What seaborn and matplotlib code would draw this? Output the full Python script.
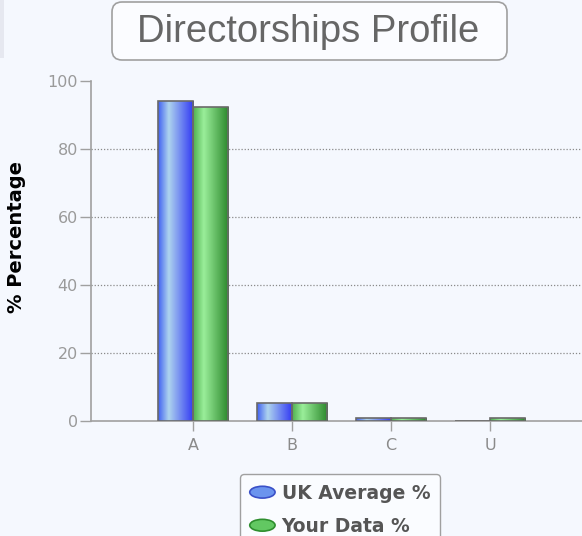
import matplotlib
matplotlib.use('Agg')
import matplotlib.pyplot as plt
import seaborn as sns
import pandas as pd
import numpy as np
from matplotlib.patches import FancyBboxPatch, Ellipse, Patch, Rectangle
from matplotlib.transforms import IdentityTransform
from matplotlib.colors import LinearSegmentedColormap
from matplotlib.legend_handler import HandlerPatch

# ---- data ----
categories = ['A', 'B', 'C', 'U']
uk_average = [94.2, 5.2, 1.0, 0.0]
your_data = [92.4, 5.2, 1.0, 1.0]
series_names = ['UK Average %', 'Your Data %']
y_ticks = [0, 20, 40, 60, 80, 100]
title = 'Directorships Profile'
y_label = '% Percentage'

df = pd.DataFrame({
    'category': categories * 2,
    'value': uk_average + your_data,
    'series': [series_names[0]] * len(categories) + [series_names[1]] * len(categories),
})

BG = '#f5f8fe'
W, H = 582, 536
fig = plt.figure(figsize=(W / 100, H / 100), dpi=100, facecolor=BG)
ax = fig.add_axes([91 / W, 1 - 421 / H, 491 / W, 340 / H])
ax.set_facecolor(BG)

sns.barplot(data=df, x='category', y='value', hue='series',
            palette=['#4a6cf0', '#4fb84f'], width=0.71, saturation=1,
            edgecolor='#6a6a6a', linewidth=1.2, ax=ax, legend=False, zorder=3)

# gradient fill clipped to each bar
cmaps = [
    LinearSegmentedColormap.from_list('b', [(0, '#3f5ff2'), (0.3, '#aed4ee'), (1, '#2f36f4')]),
    LinearSegmentedColormap.from_list('g', [(0, '#4fae4f'), (0.3, '#9aee9a'), (1, '#2a862a')]),
]
grad = np.linspace(0, 1, 256).reshape(1, -1)
for cont, cmap in zip(ax.containers, cmaps):
    for bar in cont:
        h = bar.get_height()
        if h <= 0:
            continue
        x0 = bar.get_x()
        w = bar.get_width()
        im = ax.imshow(grad, extent=(x0, x0 + w, 0, h), aspect='auto', cmap=cmap,
                       zorder=3.5, interpolation='bilinear')
        im.set_clip_path(bar)
        bar.set_facecolor('none')
        bar.set_zorder(4)

ax.set_xlim(-1.03, 3.93)
ax.set_ylim(0, 100)
ax.set_yticks(y_ticks)
ax.set_xlabel('')
ax.set_ylabel(y_label, fontweight='bold', fontsize=14, color='black')
ax.yaxis.set_label_coords(-0.132, 0.54)

ax.yaxis.grid(True, linestyle=(0, (1, 1.5)), color='#8a8a8a', linewidth=0.9, zorder=1)
gl = ax.yaxis.get_gridlines()
gl[0].set_visible(False)
gl[-1].set_visible(False)
ax.set_axisbelow(True)

for s in ['top', 'right']:
    ax.spines[s].set_visible(False)
for s in ['left', 'bottom']:
    ax.spines[s].set_color('#a0a0a0')
    ax.spines[s].set_linewidth(1.2)
    ax.spines[s].set_zorder(2)

ax.tick_params(axis='y', length=8, width=1, color='#a0a0a0', labelcolor='#9a9a9a',
               labelsize=11.5, pad=1.5)
ax.tick_params(axis='x', length=7, width=1, color='#a0a0a0', labelcolor='#8a8a8a',
               labelsize=11.5, pad=5)

# title box
fig.add_artist(Rectangle((0, H - 58), 4, 58, transform=IdentityTransform(),
                         facecolor='#e6e8f0', edgecolor='none'))
fig.add_artist(FancyBboxPatch((112, H - 60), 395, 58,
                              boxstyle='round,pad=0,rounding_size=10',
                              transform=IdentityTransform(),
                              facecolor='#fbfcff', edgecolor='#a0a0a0', linewidth=1.2))
fig.text(308 / W, 1 - 32 / H, title, ha='center', va='center', fontsize=27.5,
         color='#666666', family='Liberation Sans')


class HandlerEllipse(HandlerPatch):
    def create_artists(self, legend, orig_handle, xdescent, ydescent, width, height,
                       fontsize, trans):
        center = (0.5 * width - 0.5 * xdescent, 0.5 * height - 0.5 * ydescent)
        p = Ellipse(xy=center, width=width, height=height * 0.9)
        self.update_prop(p, orig_handle, legend)
        p.set_transform(trans)
        return [p]


handles = [Patch(facecolor='#6b94ee', edgecolor='#3a50c8', linewidth=1.2),
           Patch(facecolor='#62c862', edgecolor='#2e8e2e', linewidth=1.2)]
leg = fig.legend(handles, series_names, loc='upper center',
                 bbox_to_anchor=(340 / W, 1 - 465 / H),
                 handler_map={Patch: HandlerEllipse()},
                 prop=dict(family='DejaVu Sans', weight='bold', size=13.5),
                 frameon=True, fancybox=True, edgecolor='#a0a0a0', facecolor='#fafcff',
                 framealpha=1, handlelength=1.35, handleheight=0.7, handletextpad=0.35,
                 labelspacing=0.75, borderpad=0.5, labelcolor='#555555')

fig.savefig('out.png', dpi=100, facecolor=fig.get_facecolor())
